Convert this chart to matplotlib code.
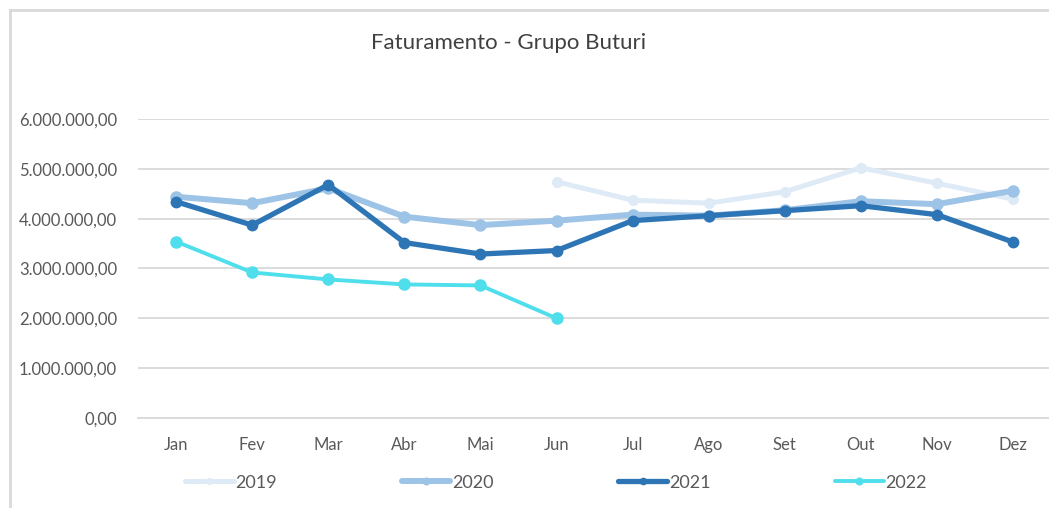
import matplotlib.pyplot as plt
import numpy as np

months = ['Jan', 'Fev', 'Mar', 'Abr', 'Mai', 'Jun', 'Jul', 'Ago', 'Set', 'Out', 'Nov', 'Dez']

# valores em reais (2019 so tem dados a partir de junho, 2022 ate junho)
fat_2019 = [None, None, None, None, None, 4740000, 4370000, 4310000, 4540000, 5020000, 4710000, 4390000]
fat_2020 = [4440000, 4310000, 4610000, 4040000, 3870000, 3960000, 4080000, 4060000, 4170000, 4350000, 4290000, 4560000]
fat_2021 = [4340000, 3870000, 4680000, 3520000, 3290000, 3360000, 3960000, 4060000, 4160000, 4260000, 4080000, 3530000]
fat_2022 = [3540000, 2920000, 2780000, 2680000, 2660000, 2000000, None, None, None, None, None, None]

series = [
    ('2019', fat_2019, '#deebf7', 3.6, 7),
    ('2020', fat_2020, '#9dc3e6', 4.3, 8),
    ('2021', fat_2021, '#2e75b6', 3.8, 7.5),
    ('2022', fat_2022, '#4fdeeb', 2.8, 8),
]

plt.rcParams['font.family'] = ['Lato', 'DejaVu Sans']


def brl(v, pos=None):
    s = f'{v:,.2f}'
    return s.replace(',', 'X').replace('.', ',').replace('X', '.')


fig = plt.figure(figsize=(10.49, 5.08), dpi=100)
ax = fig.add_axes([0.1316, 0.1772, 0.8704, 0.5886])

x = np.arange(len(months))
handles = []
for label, values, color, lw, ms in series:
    y = np.array([np.nan if v is None else v for v in values], dtype=float)
    h, = ax.plot(x, y, color=color, lw=lw, marker='o', ms=ms, label=label,
                 solid_capstyle='round', solid_joinstyle='round')
    handles.append(h)

ax.set_xlim(-0.5, 11.5)
ax.set_ylim(0, 6000000)
ax.set_yticks(np.arange(0, 6000001, 1000000))
ax.yaxis.set_major_formatter(plt.FuncFormatter(brl))
ax.set_xticks(x)
ax.set_xticklabels(months)
ax.grid(axis='y', color='#d9d9d9', lw=1.3)
ax.set_axisbelow(True)
for side in ['top', 'right', 'left']:
    ax.spines[side].set_visible(False)
ax.spines['bottom'].set_color('#d9d9d9')
ax.spines['bottom'].set_linewidth(1.3)
ax.tick_params(length=0, colors='#595959', labelsize=12)
ax.tick_params(axis='y', pad=15)
ax.tick_params(axis='x', pad=14)

fig.text(0.485, 0.915, 'Faturamento - Grupo Buturi', ha='center', va='center',
         fontsize=16, color='#404040')

leg = fig.legend(handles=handles, loc='center', bbox_to_anchor=(0.53, 0.05), ncol=4,
                 frameon=False, fontsize=13, columnspacing=6.9, handlelength=2.7,
                 handletextpad=0.1, markerscale=0.6, labelcolor='#595959')

# borda do grafico (cortada a direita e embaixo)
fig.add_artist(plt.Line2D([0.0091, 0.0091], [0.0, 0.981], transform=fig.transFigure,
                          color='#d9d9d9', lw=2))
fig.add_artist(plt.Line2D([0.0091, 1.0], [0.981, 0.981], transform=fig.transFigure,
                          color='#d9d9d9', lw=2))

fig.savefig('out.png', dpi=100)
